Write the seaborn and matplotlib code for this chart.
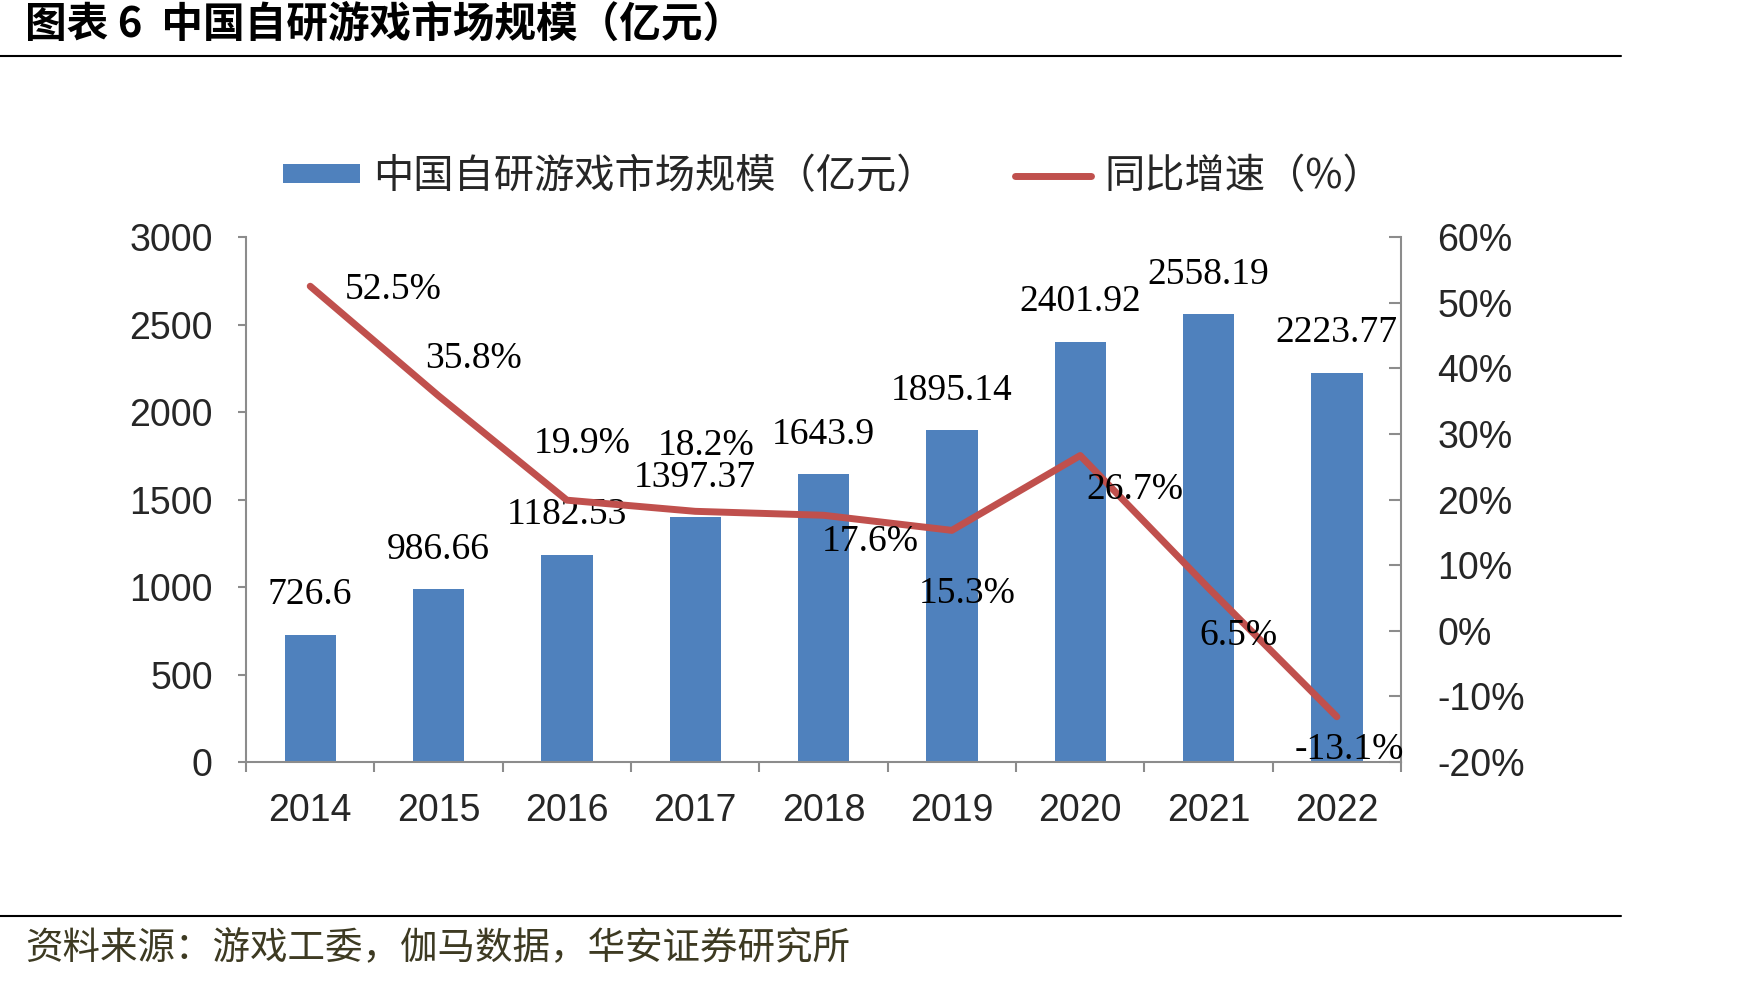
import numpy as np
import pandas as pd
import matplotlib
matplotlib.use('Agg')
import matplotlib.pyplot as plt
import seaborn as sns
from matplotlib.lines import Line2D
from matplotlib.patches import Patch

# data
years = ['2014', '2015', '2016', '2017', '2018', '2019', '2020', '2021', '2022']
market_size = [726.6, 986.66, 1182.53, 1397.37, 1643.9, 1895.14, 2401.92, 2558.19, 2223.77]
size_labels = ['726.6', '986.66', '1182.53', '1397.37', '1643.9', '1895.14', '2401.92', '2558.19', '2223.77']
growth = [52.5, 35.8, 19.9, 18.2, 17.6, 15.3, 26.7, 6.5, -13.1]
growth_labels = ['52.5%', '35.8%', '19.9%', '18.2%', '17.6%', '15.3%', '26.7%', '6.5%', '-13.1%']
left_ticks = [0, 500, 1000, 1500, 2000, 2500, 3000]
right_ticks = [-20, -10, 0, 10, 20, 30, 40, 50, 60]

# label offsets in pixels (where the growth labels sit relative to the line)
growth_offsets = [(83, -4), (35, 37), (15, 56), (11, 66), (47, -26),
                  (15, -63), (55, -34), (30, -48), (12, -33)]

blue = '#4F81BD'
red = '#C0504D'
gray = '#8C8C8C'

df = pd.DataFrame({'year': years, 'size': market_size, 'growth': growth})
df['pos'] = np.arange(len(df))

sns.set_theme(style='white')
plt.rcParams['font.family'] = ['Noto Sans CJK SC', 'DejaVu Sans']

fig = plt.figure(figsize=(17.55, 9.83), dpi=100)
ax = fig.add_axes([0.1402, 0.2248, 0.7983 - 0.1402, 0.7589 - 0.2248])

sns.barplot(data=df, x='year', y='size', color=blue, saturation=1, width=0.4,
            linewidth=0, ax=ax)
ax.set_ylim(0, 3000)
ax.set_xlim(-0.5, 8.5)
ax.set_xlabel('')
ax.set_ylabel('')

ax2 = ax.twinx()
sns.lineplot(x=df['pos'], y=df['growth'], color=red, linewidth=5, ax=ax2,
             legend=False)
ax2.set_ylim(-20, 60)
ax2.set_xlim(-0.5, 8.5)
ax2.set_ylabel('')

tick_font = {'family': 'Liberation Sans', 'size': 27}
label_font = dict(family='Liberation Serif', fontsize=27, color='black')

# x axis
ax.set_xticks(df['pos'])
ax.set_xticklabels(years, fontdict=tick_font)
ax.set_xticks(np.arange(-0.5, 9, 1), minor=True)
ax.tick_params(axis='x', which='major', length=0, pad=22, bottom=True)
ax.tick_params(axis='x', which='minor', length=7, width=1.5, color=gray,
               direction='out', bottom=True)

# left axis
ax.set_yticks(left_ticks)
ax.set_yticklabels([str(v) for v in left_ticks], fontdict=tick_font)
ax.tick_params(axis='y', left=True, length=6, width=1.5, color=gray,
               direction='out', pad=18)

# right axis
ax2.set_yticks(right_ticks)
ax2.set_yticklabels([f'{v}%' for v in right_ticks], fontdict=tick_font)
ax2.tick_params(axis='y', right=True, length=9, width=1.5, color=gray,
                direction='in', pad=26)

for a in (ax, ax2):
    a.spines['top'].set_visible(False)
    for s in ('left', 'right', 'bottom'):
        a.spines[s].set_color(gray)
        a.spines[s].set_linewidth(1.5)
ax.spines['right'].set_visible(False)
ax2.spines['left'].set_visible(False)
ax2.spines['bottom'].set_visible(False)

# data labels
for p, v, txt in zip(df['pos'], market_size, size_labels):
    ax.annotate(txt, (p, v), xytext=(0, 40), textcoords='offset pixels',
                ha='center', va='center', **label_font)
for p, v, txt, off in zip(df['pos'], growth, growth_labels, growth_offsets):
    ax2.annotate(txt, (p, v), xytext=off, textcoords='offset pixels',
                 ha='center', va='center', **label_font)

# legend
handles = [Patch(facecolor=blue, edgecolor='none'),
           Line2D([], [], color=red, linewidth=5)]
fig.legend(handles, ['中国自研游戏市场规模（亿元）', '同比增速（%）'],
           loc='center left', bbox_to_anchor=(0.1613, 0.8205), ncol=2,
           frameon=False, fontsize=29, handlelength=1.9, handleheight=0.36,
           handletextpad=0.33, columnspacing=1.95, borderpad=0, borderaxespad=0)

# title, rules and source
fig.text(25 / 1755, 1 - 25 / 983, '图表 6  中国自研游戏市场规模（亿元）',
         fontsize=30, fontweight='bold', va='center', ha='left', color='black')
fig.add_artist(Line2D([0, 1621 / 1755], [1 - 56 / 983] * 2,
                      transform=fig.transFigure, color='black', linewidth=1.5))
fig.add_artist(Line2D([0, 1621 / 1755], [1 - 916 / 983] * 2,
                      transform=fig.transFigure, color='black', linewidth=1.5))
fig.text(25 / 1755, 1 - 949 / 983, '资料来源：游戏工委，伽马数据，华安证券研究所',
         fontsize=27, va='center', ha='left', color='#3D3A22')

fig.savefig('out.png', dpi=100, facecolor='white')
